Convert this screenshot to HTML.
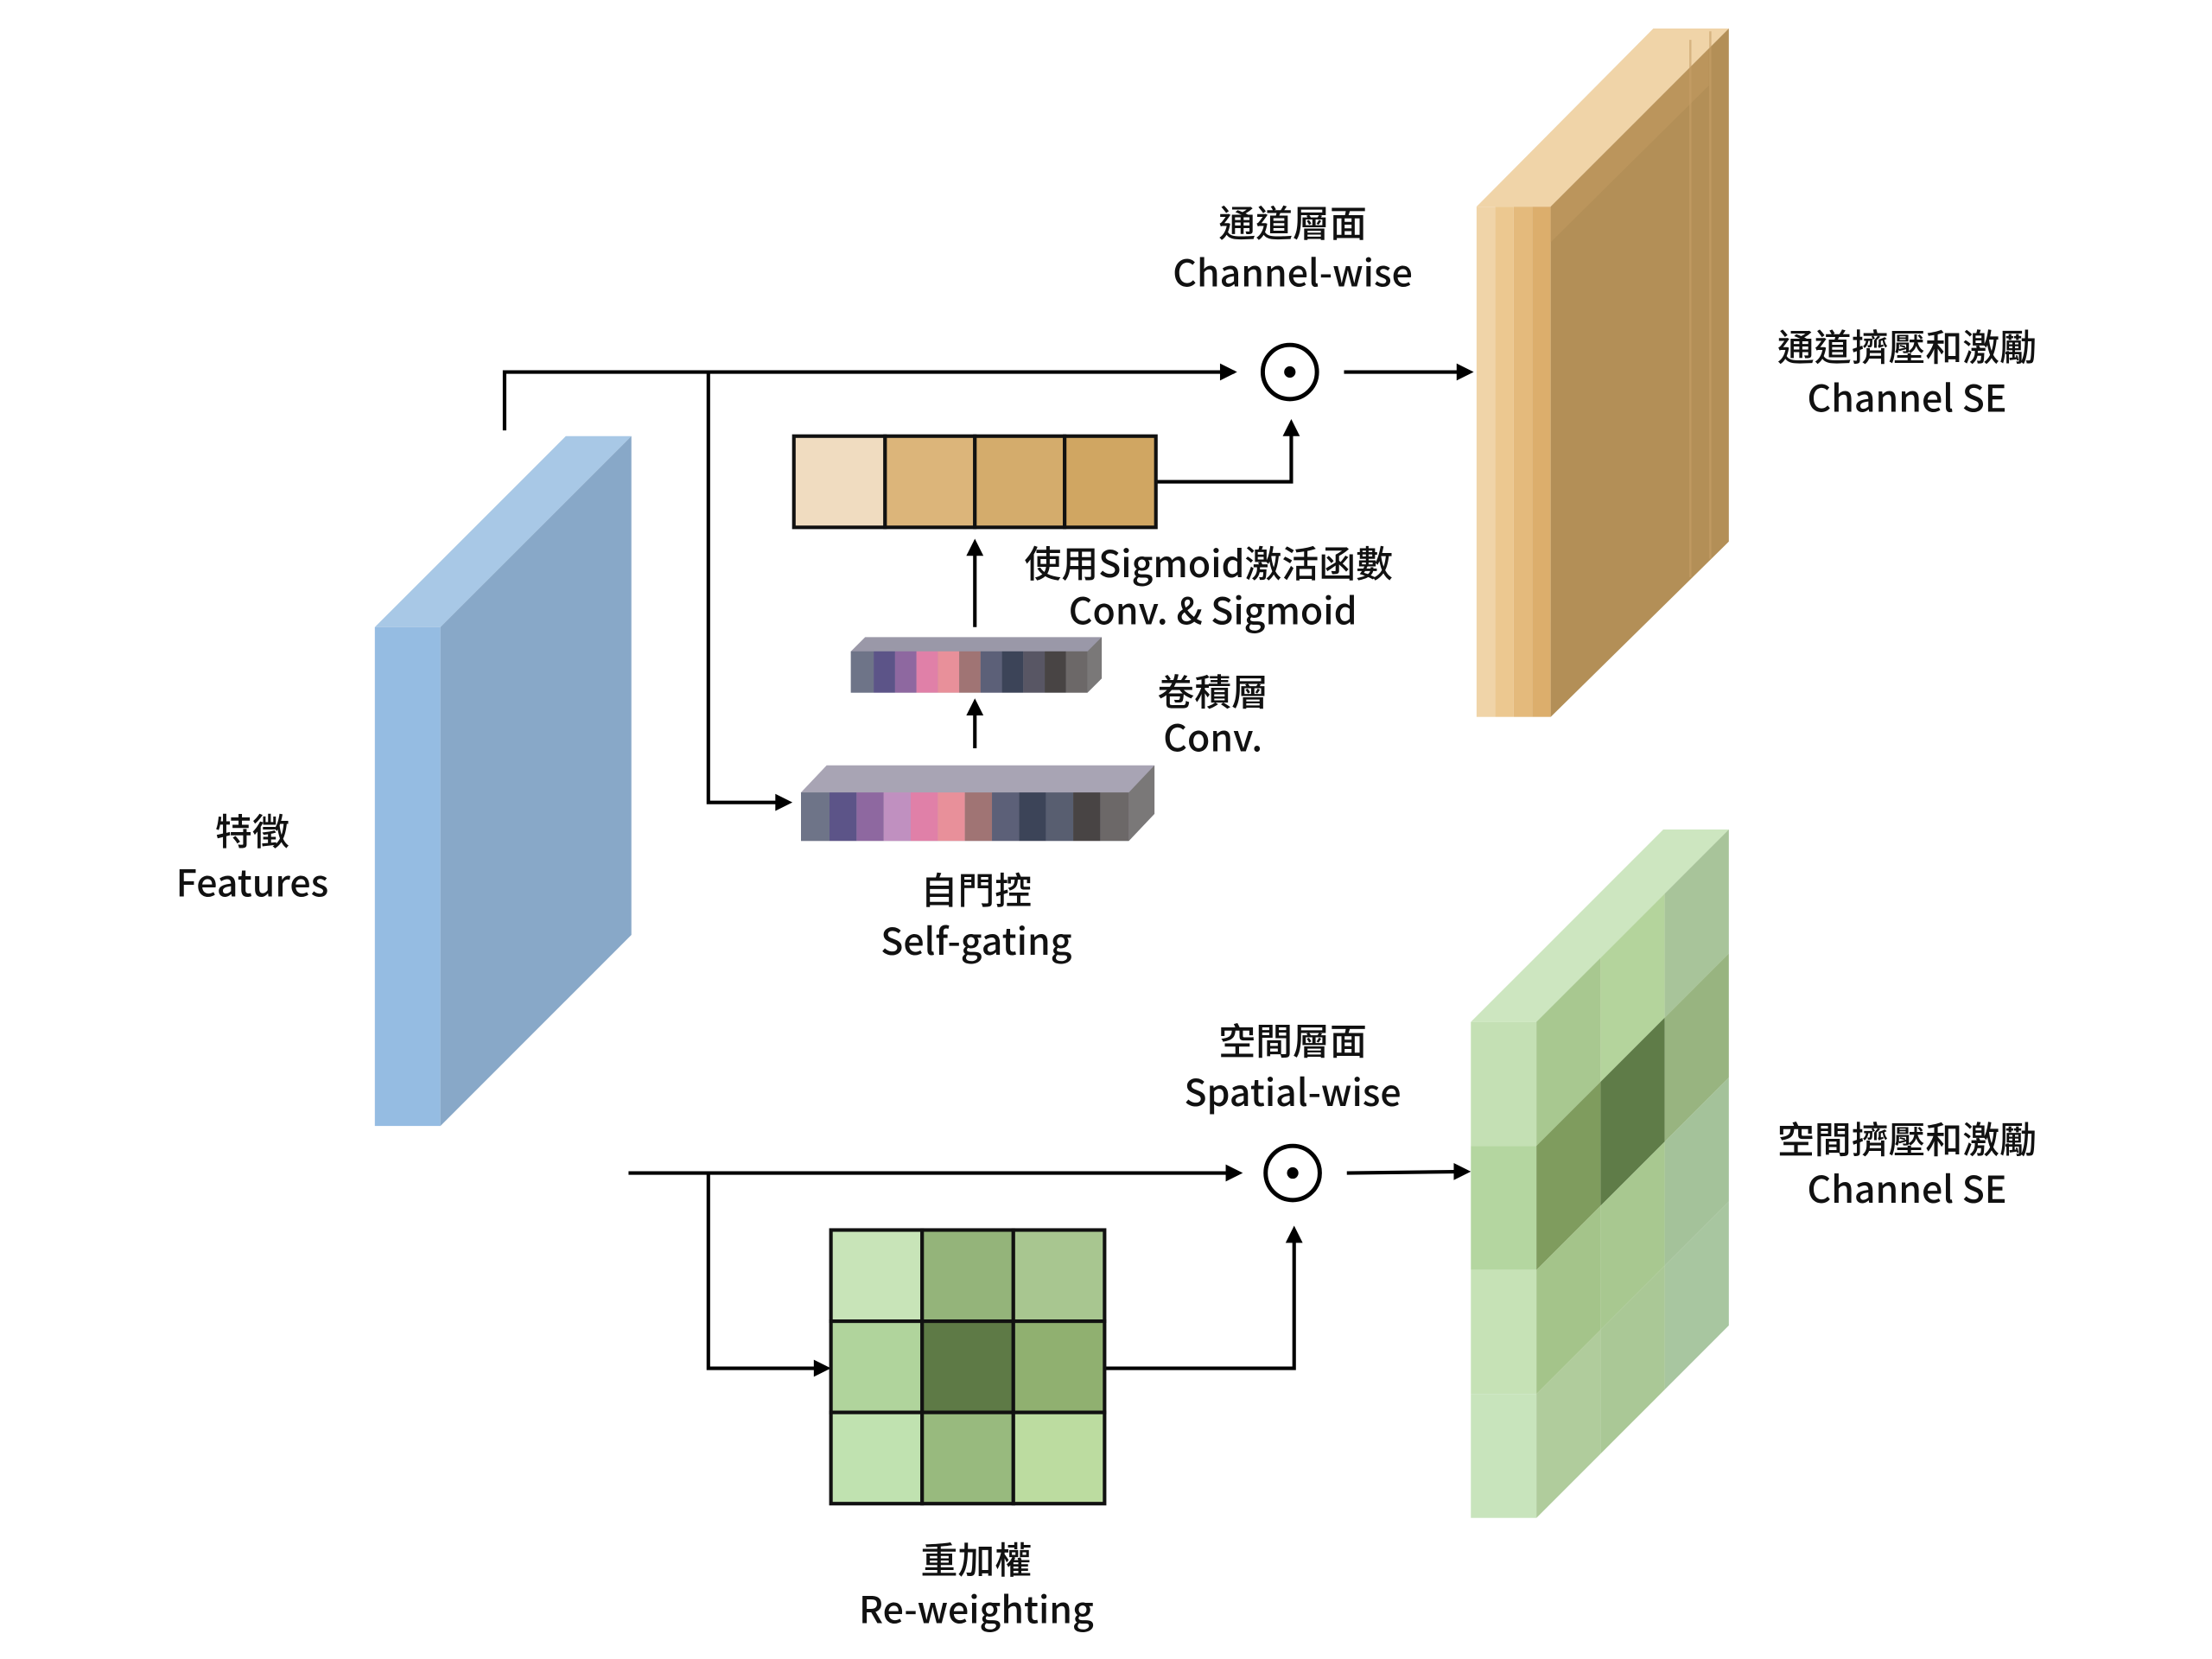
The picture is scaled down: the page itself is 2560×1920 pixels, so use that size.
<!DOCTYPE html>
<html><head><meta charset="utf-8"><style>
html,body{margin:0;padding:0;background:#fff;}
svg{display:block;}
text{font-family:"Noto Sans CJK TC","Liberation Sans",sans-serif;font-size:26px;font-weight:500;fill:#111;text-anchor:middle;}
</style></head><body>
<svg width="2560" height="1920" viewBox="0 0 1552 1164" xmlns="http://www.w3.org/2000/svg">
<rect width="1552" height="1164" fill="#fff"/>

<!-- Blue features slab -->
<polygon points="263,440 397,306 443,306 309,440" fill="#a8c8e6"/>
<rect x="263" y="440" width="46" height="350" fill="#95bce2"/>
<polygon points="309,440 443,306 443,656 309,790" fill="#88a8c8"/>

<!-- Top connectors -->
<g stroke="#000" stroke-width="2.5" fill="none">
<polyline points="354,302 354,261 866,261"/>
<polyline points="497,261 497,563 552,563"/>
<line x1="943" y1="261" x2="1030" y2="261"/>
<polyline points="811,338 906,338 906,298"/>
<line x1="684" y1="440" x2="684" y2="383"/>
<line x1="684" y1="525" x2="684" y2="495"/>
</g>
<g fill="#000">
<polygon points="868,261 856,255 856,267"/>
<polygon points="556,563 544,557 544,569"/>
<polygon points="1034,261 1022,255 1022,267"/>
<polygon points="906,294 900,306 912,306"/>
<polygon points="684,378 678,390 690,390"/>
<polygon points="684,490 678,502 690,502"/>
</g>
<circle cx="905" cy="261" r="19" fill="#fff" stroke="#000" stroke-width="3"/>
<circle cx="905" cy="261" r="4" fill="#000"/>

<!-- beige bar -->
<g stroke="#111" stroke-width="2.5">
<rect x="557" y="306" width="64" height="64" fill="#f0dcc0"/>
<rect x="621" y="306" width="63" height="64" fill="#dcb57a"/>
<rect x="684" y="306" width="63" height="64" fill="#d4ac6c"/>
<rect x="747" y="306" width="64" height="64" fill="#d0a662"/>
</g>

<!-- small conv stack -->
<g>
<polygon points="597,486 597,457 607,447 773,447 773,476 763,486" fill="#9a98a8"/>
<rect x="597" y="457" width="16" height="29" fill="#6e7488"/>
<rect x="613" y="457" width="15" height="29" fill="#5c5488"/>
<rect x="628" y="457" width="15" height="29" fill="#8e68a0"/>
<rect x="643" y="457" width="15" height="29" fill="#e080a8"/>
<rect x="658" y="457" width="15" height="29" fill="#e8909a"/>
<rect x="673" y="457" width="15" height="29" fill="#a07474"/>
<rect x="688" y="457" width="15" height="29" fill="#5c6078"/>
<rect x="703" y="457" width="15" height="29" fill="#3c4458"/>
<rect x="718" y="457" width="15" height="29" fill="#585664"/>
<rect x="733" y="457" width="15" height="29" fill="#484444"/>
<rect x="748" y="457" width="15" height="29" fill="#6c6868"/>
<polygon points="763,457 773,447 773,476 763,486" fill="#7a7878"/>
</g>
<!-- large stack -->
<g>
<polygon points="562,590 562,556 580,537 810,537 810,571 792,590" fill="#a8a4b4"/>
<rect x="562" y="556" width="20" height="34" fill="#6e7488"/>
<rect x="582" y="556" width="19" height="34" fill="#5c5488"/>
<rect x="601" y="556" width="19" height="34" fill="#8e68a0"/>
<rect x="620" y="556" width="19" height="34" fill="#c090c0"/>
<rect x="639" y="556" width="19" height="34" fill="#e080a8"/>
<rect x="658" y="556" width="19" height="34" fill="#e8909a"/>
<rect x="677" y="556" width="19" height="34" fill="#a07474"/>
<rect x="696" y="556" width="19" height="34" fill="#5c6078"/>
<rect x="715" y="556" width="19" height="34" fill="#3c4458"/>
<rect x="734" y="556" width="19" height="34" fill="#585e70"/>
<rect x="753" y="556" width="19" height="34" fill="#484444"/>
<rect x="772" y="556" width="20" height="34" fill="#6c6868"/>
<polygon points="792,556 810,537 810,571 792,590" fill="#7a7878"/>
</g>

<!-- Orange slab -->
<polygon points="1036,145 1160,20 1213,20 1088,145" fill="#f0d4a8"/>
<rect x="1036" y="145" width="13" height="358" fill="#f0d4a8"/>
<rect x="1049" y="145" width="13" height="358" fill="#ecc890"/>
<rect x="1062" y="145" width="13" height="358" fill="#e4ba7c"/>
<rect x="1075" y="145" width="13" height="358" fill="#dcae6c"/>
<polygon points="1088,145 1213,20 1213,380 1088,503" fill="#b38f57"/>
<polygon points="1088,145 1199,34 1199,60 1088,170" fill="#c49c62" opacity="0.5"/>
<line x1="1186" y1="28" x2="1186" y2="405" stroke="#c8a068" stroke-width="1.5" opacity="0.6"/>
<line x1="1200" y1="22" x2="1200" y2="392" stroke="#c8a068" stroke-width="1.5" opacity="0.6"/>

<!-- Bottom connectors -->
<g stroke="#000" stroke-width="2.5" fill="none">
<line x1="441" y1="823" x2="868" y2="823"/>
<polyline points="497,823 497,960 578,960"/>
<polyline points="775,960 908,960 908,866"/>
<line x1="945" y1="823" x2="1027" y2="822"/>
</g>
<g fill="#000">
<polygon points="872,823 860,817 860,829"/>
<polygon points="583,960 571,954 571,966"/>
<polygon points="908,860 902,872 914,872"/>
<polygon points="1032,822 1020,816 1020,828"/>
</g>
<circle cx="907" cy="823" r="19" fill="#fff" stroke="#000" stroke-width="3"/>
<circle cx="907" cy="823" r="4" fill="#000"/>

<!-- Green grid -->
<g stroke="#111" stroke-width="2.5">
<rect x="583" y="863" width="64" height="64" fill="#c8e4b8"/>
<rect x="647" y="863" width="64" height="64" fill="#94b47a"/>
<rect x="711" y="863" width="64" height="64" fill="#a8c690"/>
<rect x="583" y="927" width="64" height="64" fill="#b0d49c"/>
<rect x="647" y="927" width="64" height="64" fill="#5e7a46"/>
<rect x="711" y="927" width="64" height="64" fill="#90b070"/>
<rect x="583" y="991" width="64" height="64" fill="#c0e2b0"/>
<rect x="647" y="991" width="64" height="64" fill="#98ba7e"/>
<rect x="711" y="991" width="64" height="64" fill="#bcdca0"/>
</g>

<!-- Green slab -->
<polygon points="1032,717 1167,582 1213,582 1078,717" fill="#cde6c0"/>
<rect x="1032" y="717" width="46" height="87" fill="#c4e0b4"/>
<rect x="1032" y="804" width="46" height="87" fill="#b4d6a0"/>
<rect x="1032" y="891" width="46" height="87" fill="#c6e2b6"/>
<rect x="1032" y="978" width="46" height="87" fill="#c8e4bc"/>
<g transform="matrix(1,-1,0,1,1078,717)">
<rect x="0" y="0" width="45" height="87" fill="#a8c890"/>
<rect x="45" y="0" width="45" height="87" fill="#b4d49c"/>
<rect x="90" y="0" width="45" height="87" fill="#a8c49a"/>
<rect x="0" y="87" width="45" height="87" fill="#7f9c5e"/>
<rect x="45" y="87" width="45" height="87" fill="#5f7c48"/>
<rect x="90" y="87" width="45" height="87" fill="#98b480"/>
<rect x="0" y="174" width="45" height="87" fill="#a4c48a"/>
<rect x="45" y="174" width="45" height="87" fill="#a8c890"/>
<rect x="90" y="174" width="45" height="87" fill="#a4c29a"/>
<rect x="0" y="261" width="45" height="87" fill="#b0cc9c"/>
<rect x="45" y="261" width="45" height="87" fill="#aac896"/>
<rect x="90" y="261" width="45" height="87" fill="#a8c6a0"/>
</g>

<!-- Labels -->
<text x="907" y="166">通道層面</text>
<text x="907" y="201">Channel-wise</text>
<text x="1338" y="253">通道擠壓和激勵</text>
<text x="1338" y="289">Channel SE</text>
<text x="848" y="405">使用Sigmoid激活函數</text>
<text x="851" y="438">Conv. &amp; Sigmoid</text>
<text x="851" y="495">卷積層</text>
<text x="851" y="527">Conv.</text>
<text x="177" y="593">特徵</text>
<text x="177" y="629">Features</text>
<text x="685" y="634">自門控</text>
<text x="685" y="670">Self-gating</text>
<text x="907" y="740">空間層面</text>
<text x="907" y="776">Spatial-wise</text>
<text x="1338" y="809">空間擠壓和激勵</text>
<text x="1338" y="844">Channel SE</text>
<text x="685" y="1104">重加權</text>
<text x="685" y="1139">Re-weighting</text>
</svg>
</body></html>
